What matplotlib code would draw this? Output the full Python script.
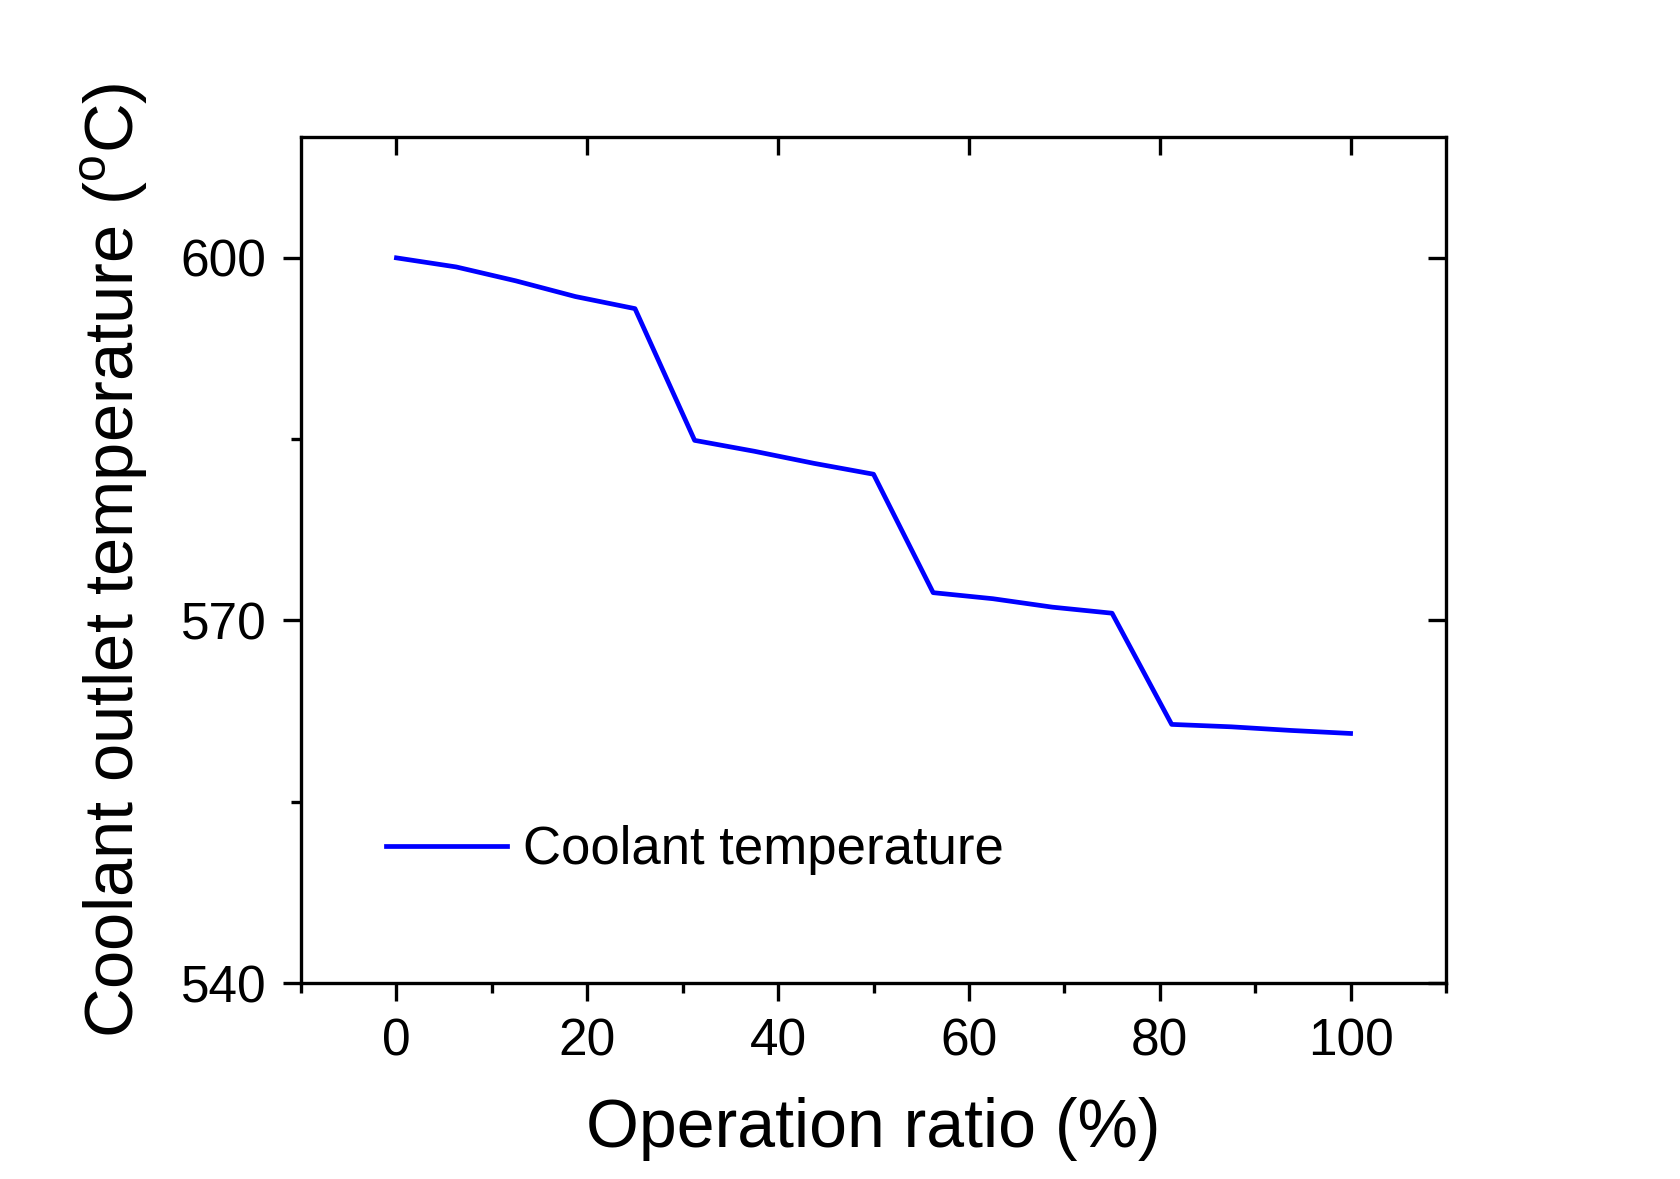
import numpy as np
import matplotlib
matplotlib.use("Agg")
import matplotlib.pyplot as plt

# operation ratio (%) vs coolant outlet temperature (C)
ratio = [0, 6.25, 12.5, 18.75, 25, 31.25, 37.5, 43.75, 50, 56.25, 62.5, 68.75, 75,
         81.25, 87.5, 93.75, 100]
temp = [600.0, 599.25, 598.1, 596.8, 595.8, 584.9, 584.0, 583.0, 582.1, 572.3, 571.8,
        571.1, 570.6, 561.4, 561.2, 560.9, 560.65]

plt.rcParams['font.family'] = ['Liberation Sans', 'DejaVu Sans']
plt.rcParams['mathtext.fontset'] = 'custom'
plt.rcParams['mathtext.rm'] = 'Liberation Sans'

fig = plt.figure(figsize=(16.8, 11.79), dpi=100)
ax = fig.add_axes([0.1792, 0.1662, 0.6815, 0.7176])

ax.plot(ratio, temp, color='#0000ff', lw=3.4, label='Coolant temperature')

ax.set_xlim(-10, 110)
ax.set_ylim(540, 610)
ax.set_xticks([0, 20, 40, 60, 80, 100])
ax.set_xticks([-10, 10, 30, 50, 70, 90, 110], minor=True)
ax.set_yticks([540, 570, 600])
ax.set_yticks([555, 585], minor=True)

for s in ax.spines.values():
    s.set_linewidth(2.4)
ax.tick_params(which='major', length=13, width=2.4, direction='out', labelsize=37,
               pad=12)
ax.tick_params(which='minor', length=7, width=2.4, direction='out')

# top / right: inward major ticks without labels
secx = ax.secondary_xaxis('top')
secx.set_xticks([0, 20, 40, 60, 80, 100])
secx.tick_params(direction='in', length=13, width=2.4, labeltop=False)
secy = ax.secondary_yaxis('right')
secy.set_yticks([540, 570, 600])
secy.tick_params(direction='in', length=13, width=2.4, labelright=False)

ax.set_xlabel('Operation ratio (%)', fontsize=49, labelpad=22)
ax.set_ylabel('Coolant outlet temperature ($^\\mathrm{o}$C)', fontsize=49.5, labelpad=22)

ax.legend(loc='center left', bbox_to_anchor=(0.074, 0.157), frameon=False,
          fontsize=38, handlelength=2.3, handletextpad=0.3, borderpad=0,
          borderaxespad=0)

fig.savefig('out.png', dpi=100, facecolor='white')
